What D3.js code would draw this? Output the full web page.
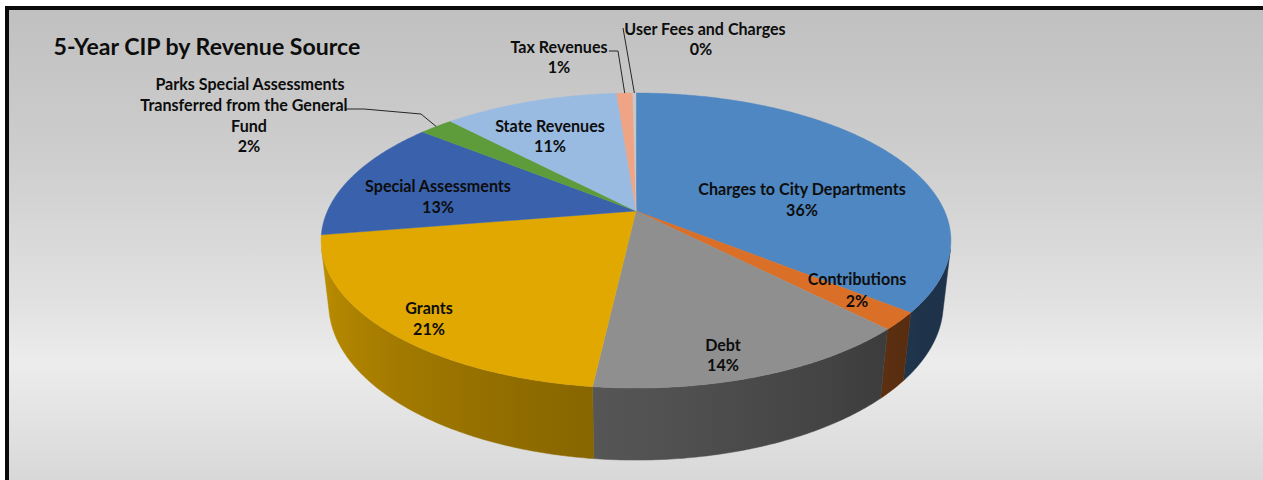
<!DOCTYPE html>
<html>
<head>
<meta charset="utf-8">
<script src="https://cdn.jsdelivr.net/npm/d3@7"></script>
<style>
  html, body { margin: 0; padding: 0; background: #ffffff; overflow: hidden; }
  svg { display: block; overflow: hidden; }
  text { font-family: Lato, "Noto Sans", "DejaVu Sans", sans-serif; font-weight: bold; fill: #0d0d0d; }
</style>
</head>
<body>
<svg id="chart" width="1263" height="480"></svg>
<script>
// ---------------- data ----------------
const title = "5-Year CIP by Revenue Source";
const categories = [
  "Charges to City Departments",
  "Contributions",
  "Debt",
  "Grants",
  "Special Assessments",
  "Parks Special Assessments Transferred from the General Fund",
  "State Revenues",
  "Tax Revenues",
  "User Fees and Charges"
];
const shares = [35.8, 1.9, 14.1, 20.6, 13.4, 2.1, 10.9, 1.0, 0.2];
const percentLabels = ["36%", "2%", "14%", "21%", "13%", "2%", "11%", "1%", "0%"];
const labelLines = [
  ["Charges to City Departments"],
  ["Contributions"],
  ["Debt"],
  ["Grants"],
  ["Special Assessments"],
  ["Parks Special Assessments", "Transferred from the General", "Fund"],
  ["State Revenues"],
  ["Tax Revenues"],
  ["User Fees and Charges"]
];

// ---------------- styles / layout ----------------
const sliceColors = ["#4E87C1", "#DA6F28", "#8F8F8F", "#E0A800", "#3A62AC",
                     "#5E9C3B", "#99BBE2", "#EFA585", "#C8C8C8"];
const labelLayout = [
  { x: 802, y: 195,   gap: 21 },
  { x: 857, y: 285,   gap: 21.5 },
  { x: 723, y: 350.5, gap: 20.5 },
  { x: 429, y: 314,   gap: 21 },
  { x: 438, y: 192.3, gap: 21 },
  { x: 249, y: 90,    gap: 20.8, offsets: [1, -5, 0, 0] },
  { x: 550, y: 131.7, gap: 20 },
  { x: 559, y: 53.3,  gap: 20 },
  { x: 704, y: 35,    gap: 20, offsets: [1, -3] }
];
const leaderStarts = {
  5: [[345, 109], [364, 109], [421, 114]],
  7: [[609, 51], [618, 51]],
  8: [[623, 28]]
};

const svg = d3.select("#chart");
const defs = svg.append("defs");

// ---------------- background + frame (top and left edges visible) ----------------
const bg = defs.append("linearGradient").attr("id", "bg")
  .attr("x1", 0).attr("y1", 0).attr("x2", 0).attr("y2", 1);
[[0, "#c0c0c0"], [0.3, "#cdcdcd"], [0.62, "#e1e1e1"], [0.75, "#ececec"],
 [0.88, "#e2e2e2"], [1, "#d8d8d8"]].forEach(([o, c]) =>
  bg.append("stop").attr("offset", o).attr("stop-color", c));

svg.append("rect").attr("x", 7).attr("y", 8).attr("width", 1256).attr("height", 472)
  .attr("fill", "url(#bg)");
svg.append("path").attr("d", "M7,480V8H1263")
  .attr("fill", "none").attr("stroke", "#0a0a0a").attr("stroke-width", 4);

// ---------------- 3D projection ----------------
const cam = { cx: 636, cy: 211, f: 1370, D: 4.44, tilt: Math.asin(0.459), depth: 0.232 };
const sT = Math.sin(cam.tilt), cT = Math.cos(cam.tilt);
function project(a, r, y) {
  const X = r * Math.sin(a), Z = -r * Math.cos(a);
  const u = y * cT - Z * sT;
  const d = cam.D - (y * sT + Z * cT);
  return [cam.cx + cam.f * X / d, cam.cy - cam.f * u / d];
}

const pie = d3.pie().sort(null).value(d => d).startAngle(0).endAngle(2 * Math.PI);
const arcs = pie(shares);
const line = d3.line();
const step = Math.PI / 360;

function rimPoints(a0, a1, y) {
  const n = Math.max(1, Math.ceil((a1 - a0) / step));
  return d3.range(n + 1).map(i => project(a0 + (a1 - a0) * i / n, 1, y));
}

// ---------------- side wall (one path per slice, horizontal gradient) ----------------
const k = 1 / (cam.D * cT);
const vMin = Math.acos(-k), vMax = 2 * Math.PI - Math.acos(-k);
function shade(aRad) {
  const deg = aRad * 180 / Math.PI;
  return Math.max(0.38, Math.min(0.9, 0.40 + 0.0036 * (deg - 130)));
}
const walls = [];
arcs.forEach((arc, i) => {
  const lo = Math.max(arc.startAngle, vMin), hi = Math.min(arc.endAngle, vMax);
  if (hi > lo) walls.push({ i, lo, hi });
});
walls.forEach(w => {
  const xa = project(w.lo, 1, 0)[0], xb = project(w.hi, 1, 0)[0];
  const g = defs.append("linearGradient").attr("id", "wall" + w.i)
    .attr("gradientUnits", "userSpaceOnUse")
    .attr("x1", xa).attr("y1", 0).attr("x2", xb).attr("y2", 0);
  const base = d3.rgb(sliceColors[w.i]);
  const n = 12;
  for (let j = 0; j <= n; j++) {
    const a = w.lo + (w.hi - w.lo) * j / n;
    const x = project(a, 1, 0)[0];
    const f = shade(a);
    const off = xb === xa ? 0 : (x - xa) / (xb - xa);
    g.append("stop").attr("offset", Math.max(0, Math.min(1, off)))
      .attr("stop-color", d3.rgb(base.r * f, base.g * f, base.b * f).formatHex());
  }
});
svg.append("g").selectAll("path").data(walls).join("path")
  .attr("d", w => line(rimPoints(w.lo, w.hi, 0)
                  .concat(rimPoints(w.lo, w.hi, -cam.depth).reverse())) + "Z")
  .attr("fill", w => `url(#wall${w.i})`)
  .attr("stroke", w => `url(#wall${w.i})`).attr("stroke-width", 0.5);

// ---------------- top faces ----------------
svg.append("g").selectAll("path").data(arcs).join("path")
  .attr("d", a => line([project(0, 0, 0)].concat(rimPoints(a.startAngle, a.endAngle, 0))) + "Z")
  .attr("fill", (a, i) => sliceColors[i])
  .attr("stroke", (a, i) => sliceColors[i]).attr("stroke-width", 0.4);

// ---------------- leader lines ----------------
Object.keys(leaderStarts).forEach(key => {
  const i = +key, arc = arcs[i];
  const end = project((arc.startAngle + arc.endAngle) / 2, 1, 0);
  svg.append("path").attr("d", line(leaderStarts[i].concat([end])))
    .attr("fill", "none").attr("stroke", "#262626").attr("stroke-width", 1);
});

// ---------------- title ----------------
const t = svg.append("text").attr("x", 53.5).attr("y", 55).attr("font-size", 22).text(title);
const tw = t.node().getComputedTextLength();
t.attr("font-size", 22 * 307 / tw);

// ---------------- labels ----------------
const probe = svg.append("text").attr("font-size", 14).text("Special Assessments");
const labelSize = 14 * 146 / probe.node().getComputedTextLength();
probe.remove();

const lg = svg.append("g").attr("font-size", labelSize).attr("text-anchor", "middle");
labelLines.forEach((lines, i) => {
  const L = labelLayout[i];
  const all = lines.concat([percentLabels[i]]);
  all.forEach((txt, j) => {
    const off = L.offsets ? (L.offsets[j] || 0) : 0;
    lg.append("text").attr("x", L.x + off).attr("y", L.y + j * L.gap).text(txt);
  });
});
</script>
</body>
</html>
